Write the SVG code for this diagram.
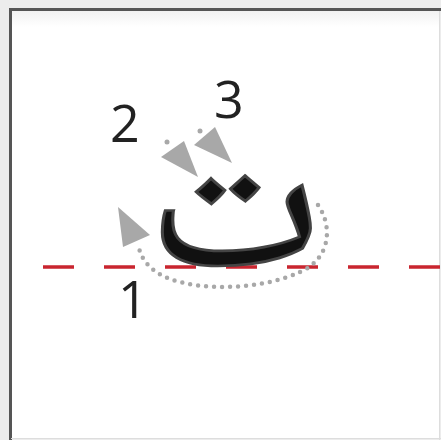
<svg xmlns="http://www.w3.org/2000/svg" width="441" height="440" viewBox="0 0 441 440">
<style>
.num{font-family:"Open Sans","Noto Sans",sans-serif;font-size:52px;fill:#222}
.arrow{fill:#a8a8a8}
.dots{fill:none;stroke:#a8a8a8;stroke-width:4.5;stroke-linecap:round;stroke-dasharray:0 8}
.guide{stroke:#c9252f;stroke-width:3.5;stroke-dasharray:31 30}
</style>
<defs>
<linearGradient id="topShade" x1="0" y1="0" x2="0" y2="1">
<stop offset="0" stop-color="#f2f2f2"/><stop offset="1" stop-color="#ffffff"/>
</linearGradient>
</defs>
<rect width="441" height="440" fill="#ececec"/>
<rect x="11" y="10" width="428" height="428" fill="#fff"/>
<rect x="12" y="11" width="427" height="16" fill="url(#topShade)"/>
<line x1="10.5" y1="9" x2="10.5" y2="440" stroke="#555" stroke-width="3"/>
<line x1="9" y1="9.5" x2="441" y2="9.5" stroke="#555" stroke-width="3"/>
<line x1="439.5" y1="11" x2="439.5" y2="440" stroke="#ddd" stroke-width="1"/>
<line x1="11" y1="438.5" x2="441" y2="438.5" stroke="#ddd" stroke-width="1"/>
<line class="guide" x1="43" y1="267" x2="441" y2="267"/>
<g id="letter">
<text transform="translate(234,266) scale(1.03,0.9)" x="0" y="0" text-anchor="middle" font-family="Noto Naskh Arabic, DejaVu Sans, sans-serif" font-size="220" fill="#111" stroke="#444" stroke-width="3">ت</text>
</g>
<g id="connectors">
<path class="dots" d="M318,205 C332,225 332,258 300,272 C270,286 220,292 180,282 C155,276 142,262 139,248"/>
<polygon class="arrow" points="118,207 123,247 150,235"/>
<circle cx="167" cy="142" r="2.5" fill="#a8a8a8"/>
<polygon class="arrow" points="161,157 184,141 198,177"/>
<circle cx="200" cy="131" r="2.5" fill="#a8a8a8"/>
<polygon class="arrow" points="194,145 215,127 232,163"/>
</g>
<g id="labels">
<text class="num" x="118" y="318">1</text>
<text class="num" x="110" y="142">2</text>
<text class="num" x="214" y="118">3</text>
</g>
</svg>
